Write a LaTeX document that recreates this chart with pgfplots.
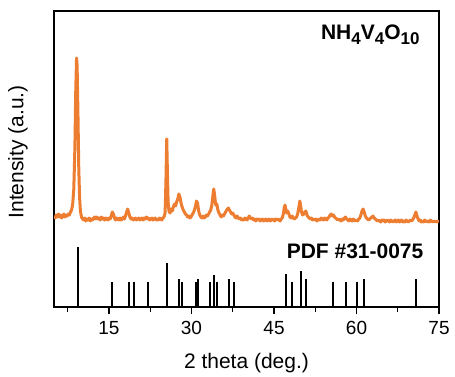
\documentclass[border=0pt]{standalone}
\usepackage{pgfplots}
\pgfplotsset{compat=1.18}
\usepackage{fontspec}
\setmainfont{Liberation Sans}
\definecolor{xrd}{RGB}{237,125,49}
\newcommand{\sub}[1]{\raisebox{-5bp}{\fontsize{17bp}{17bp}\selectfont #1}}
\begin{document}
\begin{tikzpicture}
\begin{axis}[
 name=ax,
 scale only axis, width=385bp, height=296bp,
 xmin=5, xmax=75, ymin=0, ymax=296,
 xtick={15,30,45,60,75},
 minor xtick={7.5,22.5,37.5,52.5,67.5},
 ytick=\empty,
 xtick pos=bottom,
 tick align=outside,
 major tick length=7bp, minor tick length=4.5bp,
 tick style={line width=1.1bp, black},
 axis line style={line width=1.2bp},
 /pgf/number format/assume math mode=true,
 ticklabel style={font=\fontsize{19bp}{22bp}\selectfont},
 xticklabel style={yshift=-4bp},
 xlabel={2 theta (deg.)}, ylabel={Intensity (a.u.)},
 label style={font=\fontsize{21bp}{24bp}\selectfont},
 xlabel style={at={(axis description cs:0.5,0)}, anchor=base, yshift=-61bp},
 ylabel style={at={(axis description cs:-0.0935,0.524)}, anchor=center},
]
\addplot[xrd, line width=3bp, line join=round] coordinates {
(5.0,91)(5.2,89)(5.4,92)(5.6,90)(5.8,93)(6.0,90)(6.2,92)(6.4,89)(6.6,91)(6.8,93)
(7.0,90)(7.2,92)(7.4,91)(7.6,93)(7.8,92)(8.0,95)(8.2,97)(8.4,103)(8.6,118)(8.8,160)
(8.95,215)(9.1,249)(9.2,242)(9.35,195)(9.5,140)(9.65,110)(9.8,96)(10.0,90)(10.2,88)(10.4,87)
(10.6,89)(10.8,86)(11.0,88)(11.2,87)(11.4,89)(11.6,86)(11.8,88)(12.0,87)(12.2,89)(12.4,90)
(12.6,88)(12.8,90)(13.0,88)(13.2,89)(13.4,87)(13.6,90)(13.8,88)(14.0,89)(14.2,87)(14.4,89)
(14.6,88)(14.8,87)(15.0,89)(15.2,88)(15.4,91)(15.6,95)(15.8,93)(16.0,89)(16.2,87)(16.4,89)
(16.6,88)(16.8,87)(17.0,89)(17.2,87)(17.4,88)(17.6,90)(17.8,88)(18.0,91)(18.2,95)(18.4,98)
(18.6,94)(18.8,90)(19.0,88)(19.2,89)(19.4,87)(19.6,88)(19.8,89)(20.0,87)(20.2,88)(20.4,89)
(20.6,87)(20.8,88)(21.0,89)(21.2,87)(21.4,89)(21.6,88)(21.8,90)(22.0,88)(22.2,89)(22.4,87)
(22.6,88)(22.8,89)(23.0,87)(23.2,88)(23.4,89)(23.6,87)(23.8,88)(24.0,87)(24.2,89)(24.4,88)
(24.6,87)(24.8,89)(25.0,90)(25.2,94)(25.35,125)(25.5,168)(25.62,135)(25.75,105)(25.9,96)(26.1,94)
(26.3,98)(26.5,96)(26.7,100)(26.9,103)(27.1,101)(27.3,105)(27.5,108)(27.7,113)(27.9,110)(28.1,104)
(28.3,100)(28.5,97)(28.7,95)(28.9,93)(29.1,92)(29.3,90)(29.5,91)(29.7,89)(29.9,90)(30.1,92)
(30.4,95)(30.7,100)(30.9,106)(31.1,104)(31.3,96)(31.5,92)(31.7,90)(31.9,89)(32.1,91)(32.3,89)
(32.5,90)(32.7,92)(32.9,91)(33.1,93)(33.3,95)(33.5,97)(33.7,102)(33.9,112)(34.05,118)(34.2,112)
(34.4,102)(34.6,103)(34.8,97)(35.0,94)(35.2,92)(35.4,90)(35.6,92)(35.8,91)(36.0,93)(36.2,95)
(36.4,97)(36.7,99)(36.9,97)(37.1,95)(37.3,93)(37.5,94)(37.7,92)(37.9,90)(38.1,89)(38.3,91)
(38.5,89)(38.7,88)(38.9,89)(39.1,87)(39.3,88)(39.5,87)(39.7,89)(39.9,88)(40.1,87)(40.3,89)
(40.5,91)(40.7,89)(40.9,88)(41.1,89)(41.3,87)(41.5,88)(41.7,86)(41.9,88)(42.1,87)(42.3,88)
(42.5,86)(42.7,87)(42.9,88)(43.1,86)(43.3,87)(43.5,88)(43.7,86)(43.9,87)(44.1,88)(44.3,86)
(44.5,87)(44.7,88)(44.9,87)(45.1,86)(45.3,88)(45.5,87)(45.7,88)(45.9,87)(46.1,86)(46.3,88)
(46.5,89)(46.7,93)(46.85,99)(47.0,102)(47.15,98)(47.3,94)(47.5,96)(47.7,93)(47.9,90)(48.1,89)
(48.3,91)(48.5,89)(48.7,88)(48.9,89)(49.1,90)(49.3,93)(49.5,99)(49.7,106)(49.85,101)(50.0,95)
(50.2,92)(50.4,93)(50.6,95)(50.8,96)(51.0,92)(51.2,90)(51.4,89)(51.6,88)(51.8,89)(52.0,87)
(52.2,88)(52.4,87)(52.6,88)(52.8,86)(53.0,87)(53.2,88)(53.4,87)(53.6,89)(53.8,88)(54.0,87)
(54.2,89)(54.4,88)(54.6,87)(54.8,89)(55.0,90)(55.2,92)(55.4,93)(55.6,91)(55.8,92)(56.0,90)
(56.2,89)(56.4,88)(56.6,87)(56.8,88)(57.0,87)(57.2,86)(57.4,88)(57.6,87)(57.8,89)(58.0,90)
(58.2,88)(58.4,87)(58.6,86)(58.8,88)(59.0,87)(59.2,86)(59.4,88)(59.6,87)(59.8,86)(60.0,87)
(60.2,86)(60.4,88)(60.6,89)(60.8,92)(61.0,96)(61.2,98)(61.4,95)(61.6,91)(61.8,89)(62.0,88)
(62.2,87)(62.4,88)(62.6,89)(62.8,90)(63.0,91)(63.2,89)(63.4,88)(63.6,87)(63.8,86)(64.0,87)
(64.2,86)(64.4,85)(64.6,87)(64.8,86)(65.0,87)(65.2,85)(65.4,86)(65.6,87)(65.8,86)(66.0,85)
(66.2,87)(66.4,86)(66.6,85)(66.8,86)(67.0,87)(67.2,85)(67.4,86)(67.6,87)(67.8,85)(68.0,86)
(68.2,87)(68.4,85)(68.6,86)(68.8,85)(69.0,87)(69.2,86)(69.4,85)(69.6,86)(69.8,87)(70.0,86)
(70.2,87)(70.4,89)(70.6,92)(70.8,95)(71.0,91)(71.2,88)(71.4,86)(71.6,87)(71.8,85)(72.0,86)
(72.2,85)(72.4,87)(72.6,86)(72.8,85)(73.0,86)(73.2,85)(73.4,87)(73.6,86)(73.8,85)(74.0,86)
(74.2,85)(74.4,86)(74.6,85)(74.8,86)(75.0,85)
};
\addplot[black, line width=2bp, ycomb, mark=none] coordinates {
(9.3,60)(15.6,24.7)(18.6,24.7)(19.6,24.7)(22.0,24.7)(25.5,44.3)(27.7,28.3)(28.3,24.7)
(30.8,24.7)(31.1,28.3)(33.4,24.7)(34.0,32.3)(34.6,24.7)(36.8,28.3)(37.8,24.7)
(47.1,32.7)(48.2,24.7)(49.9,36.3)(50.8,28.3)(55.7,24.7)(58.0,24.7)(60.1,24.7)(61.4,28.3)(70.8,28.3)
};
\node[anchor=base east, font=\fontsize{21bp}{24bp}\selectfont\bfseries] at (axis cs:72.1,267) {NH\sub{4}V\sub{4}O\sub{10}};
\node[anchor=base east, font=\fontsize{21bp}{24bp}\selectfont\bfseries] at (axis cs:72.8,48.7) {PDF \#31-0075};
\end{axis}
\path ([xshift=-54bp,yshift=-69bp]ax.south west) rectangle ([xshift=16bp,yshift=11bp]ax.north east);
\end{tikzpicture}
\end{document}
